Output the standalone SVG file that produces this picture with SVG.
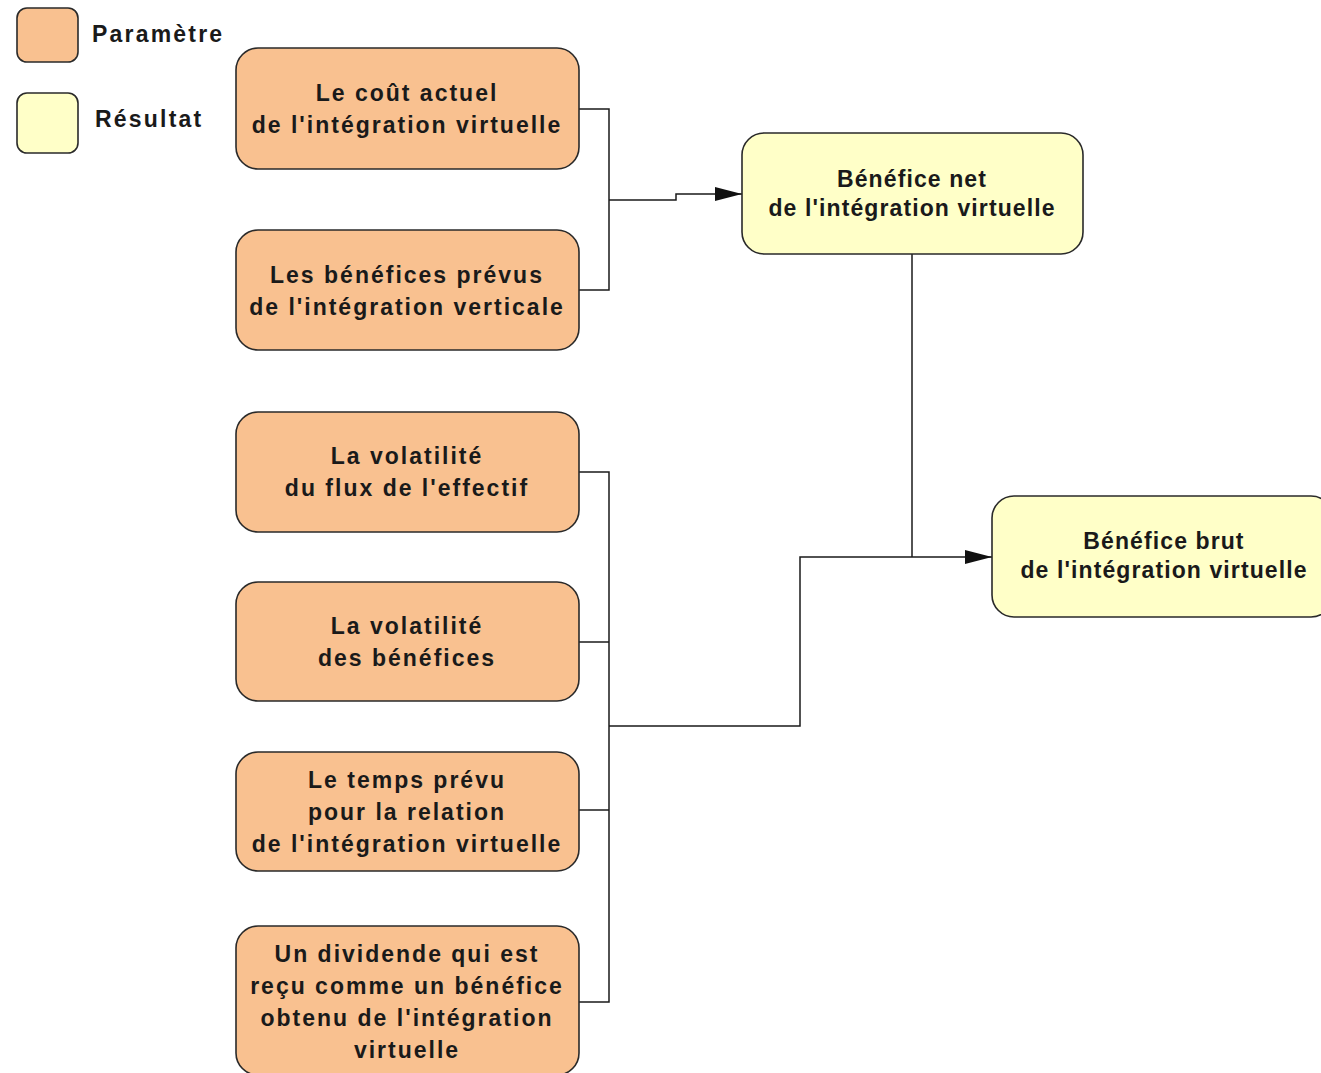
<svg xmlns="http://www.w3.org/2000/svg" width="1321" height="1073" viewBox="0 0 1321 1073">
<style>
.param{fill:#F9C190;stroke:#2a2a2a;stroke-width:1.6}
.result{fill:#FFFFC8;stroke:#2a2a2a;stroke-width:1.6}
.pt{font-family:"Liberation Sans",Arial,sans-serif;font-weight:bold;font-size:23px;fill:#1a1a1a;text-anchor:middle;letter-spacing:2px}
.rt{font-family:"Liberation Sans",Arial,sans-serif;font-weight:bold;font-size:23px;fill:#1a1a1a;text-anchor:middle;letter-spacing:1.1px}
.lt{font-family:"Liberation Sans",Arial,sans-serif;font-weight:bold;font-size:23px;fill:#1a1a1a;letter-spacing:2.2px}
.conn{fill:none;stroke:#1a1a1a;stroke-width:1.5}
</style>
<defs>
<marker id="arr" markerWidth="28" markerHeight="16" refX="27" refY="8" orient="auto" markerUnits="userSpaceOnUse">
<path d="M0,1 L27,8 L0,15 Z" fill="#111"/>
</marker>
</defs>
<rect width="1321" height="1073" fill="#ffffff"/>
<g id="legend">
<rect class="param" x="17" y="8" width="61" height="54" rx="10"/>
<text class="lt" x="92" y="42">Paramètre</text>
<rect class="result" x="17" y="93" width="61" height="60" rx="10"/>
<text class="lt" x="95" y="127">Résultat</text>
</g>
<g id="connectors">
<path class="conn" d="M579,109 H609 V290 H579"/>
<path class="conn" d="M609,200 H676 V194 H742" marker-end="url(#arr)"/>
<path class="conn" d="M579,472 H609 V1002 H579"/>
<path class="conn" d="M579,642 H609"/>
<path class="conn" d="M579,810 H609"/>
<path class="conn" d="M609,726 H800 V557 H992" marker-end="url(#arr)"/>
<path class="conn" d="M912,254 V557"/>
</g>
<g id="n1">
<rect class="param" x="236" y="48" width="343" height="121" rx="22"/>
<text class="pt" x="407" y="101">Le coût actuel</text>
<text class="pt" x="407" y="133">de l'intégration virtuelle</text>
</g>
<g id="n2">
<rect class="param" x="236" y="230" width="343" height="120" rx="22"/>
<text class="pt" x="407" y="283">Les bénéfices prévus</text>
<text class="pt" x="407" y="315">de l'intégration verticale</text>
</g>
<g id="n3">
<rect class="param" x="236" y="412" width="343" height="120" rx="22"/>
<text class="pt" x="407" y="464">La volatilité</text>
<text class="pt" x="407" y="496">du flux de l'effectif</text>
</g>
<g id="n4">
<rect class="param" x="236" y="582" width="343" height="119" rx="22"/>
<text class="pt" x="407" y="634">La volatilité</text>
<text class="pt" x="407" y="666">des bénéfices</text>
</g>
<g id="n5">
<rect class="param" x="236" y="752" width="343" height="119" rx="22"/>
<text class="pt" x="407" y="788">Le temps prévu</text>
<text class="pt" x="407" y="820">pour la relation</text>
<text class="pt" x="407" y="852">de l'intégration virtuelle</text>
</g>
<g id="n6">
<rect class="param" x="236" y="926" width="343" height="149" rx="22"/>
<text class="pt" x="407" y="962">Un dividende qui est</text>
<text class="pt" x="407" y="994">reçu comme un bénéfice</text>
<text class="pt" x="407" y="1026">obtenu de l'intégration</text>
<text class="pt" x="407" y="1058">virtuelle</text>
</g>
<g id="r1">
<rect class="result" x="742" y="133" width="341" height="121" rx="22"/>
<text class="rt" x="912" y="187">Bénéfice net</text>
<text class="rt" x="912" y="216">de l'intégration virtuelle</text>
</g>
<g id="r2">
<rect class="result" x="992" y="496" width="341" height="121" rx="22"/>
<text class="rt" x="1164" y="549">Bénéfice brut</text>
<text class="rt" x="1164" y="578">de l'intégration virtuelle</text>
</g>
</svg>
